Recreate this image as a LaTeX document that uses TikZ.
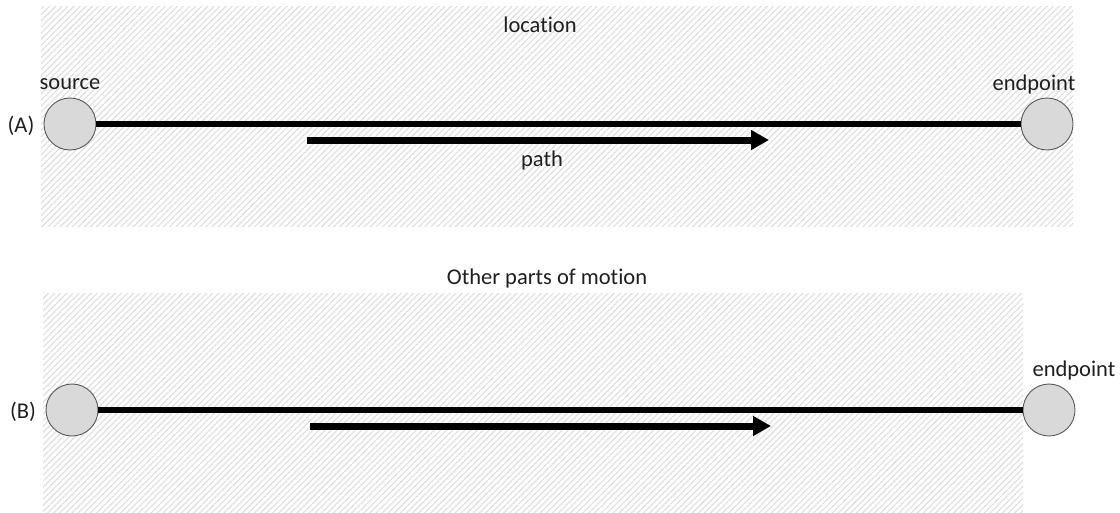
\documentclass[tikz,border=0pt]{standalone}
\usepackage{fontspec}
\setmainfont{Carlito}[Ligatures={NoCommon}]
\usetikzlibrary{patterns.meta,arrows.meta}

\tikzset{
  hatched/.style={pattern={Lines[angle=45,distance=4.3pt,line width=1.1pt]},pattern color=black!13},
  point/.style={circle,draw=black!65,line width=0.9pt,fill=black!15,minimum size=52pt,inner sep=0pt},
  link/.style={line width=6pt,black},
  motion/.style={line width=7pt,black,-{Triangle[length=18pt,width=19pt]}},
  lbl/.style={font=\fontsize{22.5pt}{26pt}\selectfont,text=black!88,inner sep=0pt}
}

\begin{document}
\begin{tikzpicture}[x=1pt,y=-1pt]
\useasboundingbox (0,0) rectangle (1120,512);

% shaded regions
\fill[hatched] (41,6) rectangle (1073,226);
\fill[hatched] (43,293) rectangle (1023,512);

% (A): location with source, endpoint and path
\node[lbl] (locA) at (540,25) {location};
\node[point] (srcA) at (70,124) {};
\node[point] (endA) at (1047,124) {};
\node[lbl] (tagA) at (21,126) {(A)};
\node[lbl] (srcAlbl) at (70,84) {source};
\node[lbl] (endAlbl) at (1034,84) {endpoint};
\draw[link] (srcA) -- (endA);
\coordinate (pathAs) at (307,140);
\coordinate (pathAe) at (769,140);
\draw[motion] (pathAs) -- (pathAe);
\node[lbl] (pathA) at (542,160) {path};

% (B): other parts of motion
\node[lbl] (motB) at (547,278) {Other parts of motion};
\node[point] (srcB) at (72,410) {};
\node[point] (endB) at (1049,410) {};
\node[lbl] (tagB) at (23,412) {(B)};
\node[lbl] (endBlbl) at (1074,370) {endpoint};
\draw[link] (srcB) -- (endB);
\coordinate (pathBs) at (310,426);
\coordinate (pathBe) at (771,426);
\draw[motion] (pathBs) -- (pathBe);
\end{tikzpicture}
\end{document}
